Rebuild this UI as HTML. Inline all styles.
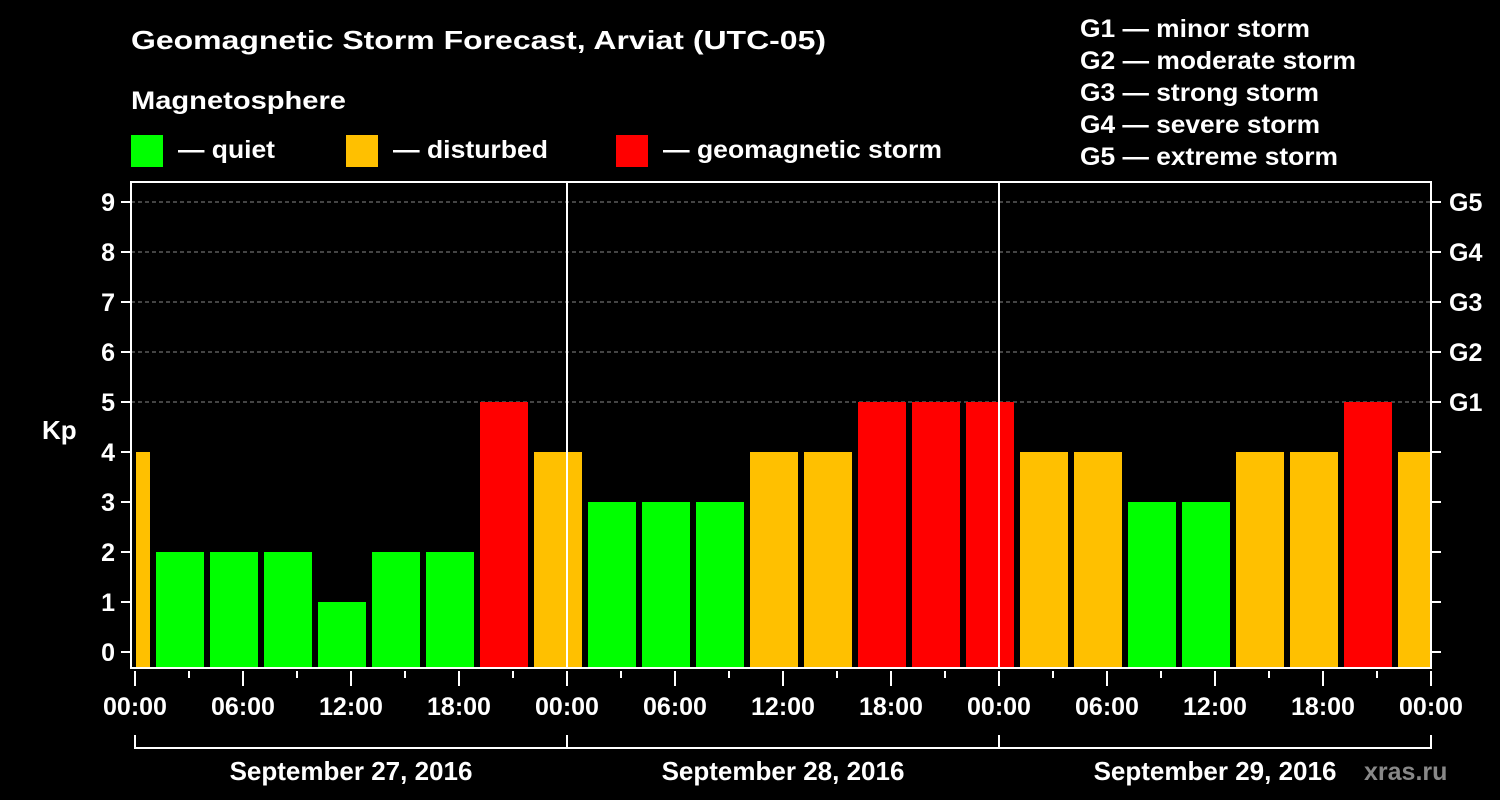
<!DOCTYPE html>
<html><head><meta charset="utf-8"><style>
html,body{margin:0;padding:0;background:#000;}
svg{display:block;font-family:"Liberation Sans",Arial,sans-serif;font-weight:bold;}
</style></head><body>
<svg id="chart" width="1500" height="800" viewBox="0 0 1500 800">
<rect x="0" y="0" width="1500" height="800" fill="#000"/>
<text x="131" y="49" fill="#fff" font-size="26" textLength="695" lengthAdjust="spacingAndGlyphs">Geomagnetic Storm Forecast, Arviat (UTC-05)</text>
<text x="131" y="109" fill="#fff" font-size="25" textLength="215" lengthAdjust="spacingAndGlyphs">Magnetosphere</text>
<g><rect x="131" y="135" width="32" height="32" fill="#00ff00"/><text x="178" y="158" fill="#fff" font-size="25" textLength="97" lengthAdjust="spacingAndGlyphs">— quiet</text></g>
<g><rect x="346" y="135" width="32" height="32" fill="#ffc000"/><text x="393" y="158" fill="#fff" font-size="25" textLength="155" lengthAdjust="spacingAndGlyphs">— disturbed</text></g>
<g><rect x="616" y="135" width="32" height="32" fill="#ff0000"/><text x="663" y="158" fill="#fff" font-size="25" textLength="279" lengthAdjust="spacingAndGlyphs">— geomagnetic storm</text></g>
<g fill="#fff" font-size="25">
<text x="1080" y="37" textLength="230" lengthAdjust="spacingAndGlyphs">G1 — minor storm</text>
<text x="1080" y="69" textLength="276" lengthAdjust="spacingAndGlyphs">G2 — moderate storm</text>
<text x="1080" y="101" textLength="239" lengthAdjust="spacingAndGlyphs">G3 — strong storm</text>
<text x="1080" y="133" textLength="240" lengthAdjust="spacingAndGlyphs">G4 — severe storm</text>
<text x="1080" y="165" textLength="258" lengthAdjust="spacingAndGlyphs">G5 — extreme storm</text>
</g>
<text x="42" y="439" fill="#fff" font-size="26">Kp</text>
<text x="1364" y="780" fill="#888" font-size="25">xras.ru</text>
<g id="grid"></g><g id="bars"></g><g id="axes"></g>
</svg>
<script>
const kpValues=[4,2,2,2,1,2,2,5,4,3,3,3,4,4,5,5,5,4,4,3,3,4,4,5,4];
const startHour=-2;
const yTicks=[0,1,2,3,4,5,6,7,8,9];
const gLabels=["G1","G2","G3","G4","G5"];
const gLevels=[5,6,7,8,9];
const xTickLabels=["00:00","06:00","12:00","18:00","00:00","06:00","12:00","18:00","00:00","06:00","12:00","18:00","00:00"];
const dayLabels=["September 27, 2016","September 28, 2016","September 29, 2016"];
(function(){
const NS="http://www.w3.org/2000/svg";
const x0=135,pxH=18,totalH=72;
const X=h=>x0+Math.max(0,Math.min(totalH,h))*pxH;
const Y=v=>652-v*50;
const plotTop=182,plotBot=668,right=X(totalH);
function mk(tag,attrs,parent,txt){const e=document.createElementNS(NS,tag);for(const k in attrs)e.setAttribute(k,attrs[k]);if(txt!==undefined)e.textContent=txt;document.getElementById(parent).appendChild(e);return e;}
gLevels.forEach((v,i)=>{
 const l=mk('line',{x1:x0-4,x2:right,y1:Y(v),y2:Y(v),stroke:'#888','stroke-dasharray':'4,3','stroke-width':1},'grid');
 
 
});
function color(v){return v>=5?'#ff0000':(v>=4?'#ffc000':'#00ff00');}
kpValues.forEach((v,i)=>{
 const h0=startHour+i*3,h1=h0+3;
 let a=X(h0),b=X(h1);
 a=(h0<0)?a+1:a+3; b=(h1>totalH)?b-1:b-3;
 const r=mk('rect',{x:a,y:Y(v),width:b-a,height:plotBot-Y(v),fill:color(v)},'bars');
 
 
});
const ax='axes';
mk('rect',{x:x0-4,y:plotTop,width:right-x0+4,height:plotBot-plotTop,fill:'none',stroke:'#fff','stroke-width':2},ax);
[24,48].forEach(h=>{const l=mk('line',{x1:X(h),x2:X(h),y1:plotTop,y2:plotBot,stroke:'#fff','stroke-width':2},ax);});
yTicks.forEach(v=>{
 mk('line',{x1:x0-14,x2:x0-4,y1:Y(v),y2:Y(v),stroke:'#fff','stroke-width':2},ax);
 mk('line',{x1:right,x2:right+10,y1:Y(v),y2:Y(v),stroke:'#fff','stroke-width':2},ax);
 const t=mk('text',{x:x0-20,y:Y(v)+9,fill:'#fff','font-size':25,'text-anchor':'end'},ax,String(v));
 
 
});
gLevels.forEach((v,i)=>{
 const t=mk('text',{x:right+18,y:Y(v)+9,fill:'#fff','font-size':25},ax,gLabels[i]);
 
 
});
for(let h=0;h<=totalH;h+=3){
 const major=h%6===0;
 mk('line',{x1:X(h),x2:X(h),y1:plotBot+3,y2:major?plotBot+18:plotBot+10,stroke:'#fff','stroke-width':2},ax);
}
xTickLabels.forEach((s,i)=>{
 const t=mk('text',{x:X(i*6),y:715,fill:'#fff','font-size':25,'text-anchor':'middle'},ax,s);
 
 
});
mk('line',{x1:x0,x2:right,y1:748,y2:748,stroke:'#fff','stroke-width':2},ax);
[0,24,48,72].forEach(h=>mk('line',{x1:X(h),x2:X(h),y1:735,y2:749,stroke:'#fff','stroke-width':2},ax));
dayLabels.forEach((s,i)=>{
 const t=mk('text',{x:X(i*24+12),y:780,fill:'#fff','font-size':26,'text-anchor':'middle'},ax,s);
 
 
});
})();
</script>
</body></html>
